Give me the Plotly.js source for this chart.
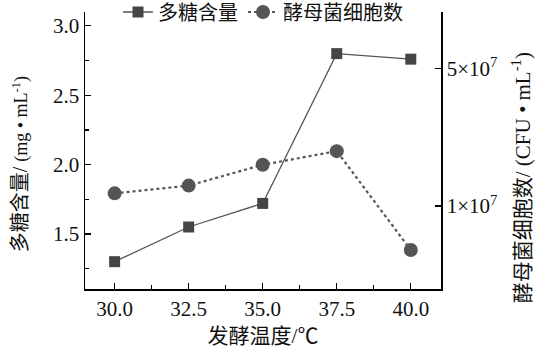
<!DOCTYPE html>
<html><head><meta charset="utf-8">
<script src="https://cdn.plot.ly/plotly-3.0.1.min.js"></script>
<style>html,body{margin:0;padding:0;background:#fff}</style>
</head><body><div id="c" style="width:536px;height:359px"></div>
<script>
const temps = [30.0, 32.5, 35.0, 37.5, 40.0];
const polysaccharide = [1.30, 1.55, 1.72, 2.80, 2.76];
const yeastCells = [1.16e7, 1.27e7, 1.62e7, 1.90e7, 5.98e6];
const xTicks = [30.0, 32.5, 35.0, 37.5, 40.0];
const xTickText = ['30.0', '32.5', '35.0', '37.5', '40.0'];
const rightTicks = [1e7, 5e7];
const rightTickText = ['1×10<sup>7</sup>', '5×10<sup>7</sup>'];
const leftTitle = '多糖含量/ <span style="font-size:18px">(mg • mL<sup>-1</sup>)</span>';
const rightTitle = '酵母菌细胞数/ (CFU • mL<sup>-1</sup>)';

const FONT = '"Liberation Serif", "Noto Sans CJK SC", serif';
const traces = [
  {x: temps, y: polysaccharide, name: '多糖含量', type: 'scatter', mode: 'lines+markers',
   line: {color: '#555', width: 1.3},
   marker: {symbol: 'square', size: 11, color: '#454545'}, yaxis: 'y'},
  {x: temps, y: yeastCells, name: '酵母菌细胞数', type: 'scatter', mode: 'lines+markers',
   line: {color: '#555', width: 2.2, dash: 'dot'},
   marker: {symbol: 'circle', size: 14, color: '#555'}, yaxis: 'y2'}
];
const axCommon = {showgrid: false, zeroline: false, showline: true, linecolor: '#000', linewidth: 1.5,
  ticks: 'inside', ticklen: 6, tickcolor: '#000', tickwidth: 1.2,
  tickfont: {family: FONT, size: 21, color: '#111'}};
const layout = {
  width: 536, height: 359,
  margin: {l: 85, r: 95, t: 12, b: 70, autoexpand: false},
  paper_bgcolor: '#fff', plot_bgcolor: '#fff',
  font: {family: FONT, color: '#111'},
  showlegend: true,
  legend: {orientation: 'h', x: 0.5, xanchor: 'center', y: 1.0, yanchor: 'middle',
    font: {family: FONT, size: 20, color: '#111'}, bgcolor: 'rgba(255,255,255,0)', itemwidth: 30},
  xaxis: Object.assign({}, axCommon, {range: [29, 41.02], tickvals: xTicks, ticktext: xTickText,
    minor: {dtick: 1.25, tick0: 30, ticks: 'inside', ticklen: 4, tickcolor: '#000'},
    title: {text: '发酵温度/℃', font: {family: FONT, size: 21, color: '#111'}, standoff: 8}}),
  yaxis: Object.assign({}, axCommon, {range: [1.103, 3.1], tickmode: 'linear', tick0: 1.5, dtick: 0.5,
    tickformat: '.1f',
    minor: {dtick: 0.25, tick0: 1.25, ticks: 'inside', ticklen: 4, tickcolor: '#000'}}),
  yaxis2: Object.assign({}, axCommon, {overlaying: 'y', side: 'right', type: 'log',
    range: [6.579, 7.985], tickvals: rightTicks, ticktext: rightTickText}),
  annotations: [
    {text: leftTitle, textangle: -90, xref: 'paper', yref: 'paper', x: -0.18, y: 0.45,
     xanchor: 'center', yanchor: 'middle', showarrow: false,
     font: {family: FONT, size: 20, color: '#111'}},
    {text: rightTitle, textangle: -90, xref: 'paper', yref: 'paper', x: 1.225, y: 0.40,
     xanchor: 'center', yanchor: 'middle', showarrow: false,
     font: {family: FONT, size: 21, color: '#111'}}
  ]
};
Plotly.newPlot('c', traces, layout, {displayModeBar: false, staticPlot: true});
</script></body></html>
